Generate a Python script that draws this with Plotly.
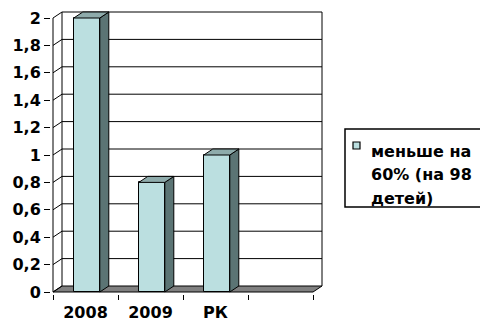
import plotly.graph_objects as go

# --- data ---
categories = ["2008", "2009", "РК", ""]
values = [2, 0.8, 1, None]
legend_lines = ["меньше на", "60% (на 98", "детей)"]
y_ticks = [0, 0.2, 0.4, 0.6, 0.8, 1.0, 1.2, 1.4, 1.6, 1.8, 2.0]
y_tick_labels = ["0", "0,2", "0,4", "0,6", "0,8", "1", "1,2", "1,4", "1,6", "1,8", "2"]

# --- styling / pseudo-3D geometry ---
FRONT = "#BBDFE0"
SIDE = "#5B7474"
TOP = "#8EABAB"
FLOOR = "#808080"
FONT = dict(family="DejaVu Sans", size=16, color="black", weight="bold")

W, H = 480, 324
PX_X = 65.0          # pixels per category
PX_Y = 137.0         # pixels per value unit
DX = 9 / PX_X        # depth offset (x, data units)
DY = 6 / PX_Y        # depth offset (y, data units)
EX, EY = 2 / PX_X, 2 / PX_Y
BAR_W = 0.4
BAR_OFF = -0.18

n = len(categories)
xs = list(range(n))
x0, x1 = -0.5, n - 0.5
ymax = y_ticks[-1]

xr = [x0 - EX, x1 + DX + EX]
yr = [-EY, ymax + DY + EY]
plot_w = (xr[1] - xr[0]) * PX_X
plot_h = (yr[1] - yr[0]) * PX_Y
m_l = 53 - EX * PX_X
m_b = H - (292 + EY * PX_Y)
m_t = H - m_b - plot_h
m_r = W - m_l - plot_w


def px(xpix):
    """pixel column -> paper x"""
    return (xpix - m_l) / plot_w


def py(ypix):
    """pixel row -> paper y"""
    return (H - m_b - ypix) / plot_h


fig = go.Figure()

# front faces of the columns
fig.add_trace(go.Bar(
    x=xs, y=values, width=BAR_W, offset=BAR_OFF, name="".join(legend_lines),
    marker=dict(color=FRONT, line=dict(color="black", width=1)),
    showlegend=False, hoverinfo="skip",
))

# side and top faces
side_x, side_y, top_x, top_y = [], [], [], []
for i, v in zip(xs, values):
    if v is None:
        continue
    l, r = i + BAR_OFF, i + BAR_OFF + BAR_W
    side_x += [r, r + DX, r + DX, r, r, None]
    side_y += [0, DY, v + DY, v, 0, None]
    top_x += [l, r, r + DX, l + DX, l, None]
    top_y += [v, v, v + DY, v + DY, v, None]

fig.add_trace(go.Scatter(x=side_x, y=side_y, mode="lines", fill="toself",
                         fillcolor=SIDE, line=dict(color="black", width=1),
                         showlegend=False, hoverinfo="skip"))
fig.add_trace(go.Scatter(x=top_x, y=top_y, mode="lines", fill="toself",
                         fillcolor=TOP, line=dict(color="black", width=1),
                         showlegend=False, hoverinfo="skip"))

# walls, floor and gridlines
shapes = []
line = dict(color="black", width=1)
shapes.append(dict(type="path", xref="x", yref="y", layer="below",
                   path=f"M{x0},0 L{x1},0 L{x1 + DX},{DY} L{x0 + DX},{DY} Z",
                   fillcolor=FLOOR, line=dict(color="black", width=1)))
for v in y_ticks[1:]:
    shapes.append(dict(type="line", xref="x", yref="y", layer="below",
                       x0=x0 + DX, x1=x1 + DX, y0=v + DY, y1=v + DY, line=line))
for v in y_ticks:
    shapes.append(dict(type="line", xref="x", yref="y", layer="below",
                       x0=x0, x1=x0 + DX, y0=v, y1=v + DY, line=line))
shapes.append(dict(type="line", xref="x", yref="y", layer="below",
                   x0=x0 + DX, x1=x0 + DX, y0=DY, y1=ymax + DY, line=line))
shapes.append(dict(type="line", xref="x", yref="y", layer="below",
                   x0=x1 + DX, x1=x1 + DX, y0=DY, y1=ymax + DY, line=line))
shapes.append(dict(type="line", xref="x", yref="y", layer="below",
                   x0=x0, x1=x0, y0=0, y1=ymax, line=line))

# legend box (runs off the right edge of the page)
shapes.append(dict(type="rect", xref="paper", yref="paper",
                   x0=px(345), x1=px(500), y0=py(207), y1=py(129),
                   fillcolor="white", line=dict(color="black", width=1.5)))
shapes.append(dict(type="rect", xref="paper", yref="paper",
                   x0=px(353), x1=px(360), y0=py(149), y1=py(142),
                   fillcolor=FRONT, line=dict(color="black", width=1.2)))
annotations = []
for k, txt in enumerate(legend_lines):
    annotations.append(dict(xref="paper", yref="paper", x=px(369),
                            y=py(151 + 23.5 * k), xanchor="left",
                            yanchor="middle", text=txt, showarrow=False,
                            font=FONT))

fig.update_layout(
    width=W, height=H, autosize=False,
    margin=dict(l=m_l, r=m_r, t=m_t, b=m_b, pad=0),
    paper_bgcolor="white", plot_bgcolor="rgba(0,0,0,0)",
    shapes=shapes, annotations=annotations,
    bargap=0, showlegend=False,
    xaxis=dict(range=xr, tickvals=xs, ticktext=categories, ticks="outside",
               ticklen=4, tickcolor="rgba(0,0,0,0)", showgrid=False,
               zeroline=False, showline=False, tickfont=FONT, automargin=False,
               fixedrange=True),
    xaxis2=dict(range=xr, overlaying="x", anchor="y", side="bottom",
                tickvals=[x0 + k for k in range(n + 1)], ticks="outside",
                ticklen=5, tickcolor="black", tickwidth=1, showticklabels=False,
                showgrid=False, zeroline=False, showline=False, fixedrange=True),
    yaxis=dict(range=yr, tickvals=y_ticks, ticktext=y_tick_labels,
               ticks="outside", ticklen=6, tickcolor="black", tickwidth=1,
               showgrid=False, zeroline=False, showline=False, tickfont=FONT,
               automargin=False, fixedrange=True),
)
# empty trace on the overlay axis so its boundary ticks are drawn
fig.add_trace(go.Scatter(x=[None], y=[None], xaxis="x2", yaxis="y",
                         showlegend=False, hoverinfo="skip"))

fig.write_html("out.html")
